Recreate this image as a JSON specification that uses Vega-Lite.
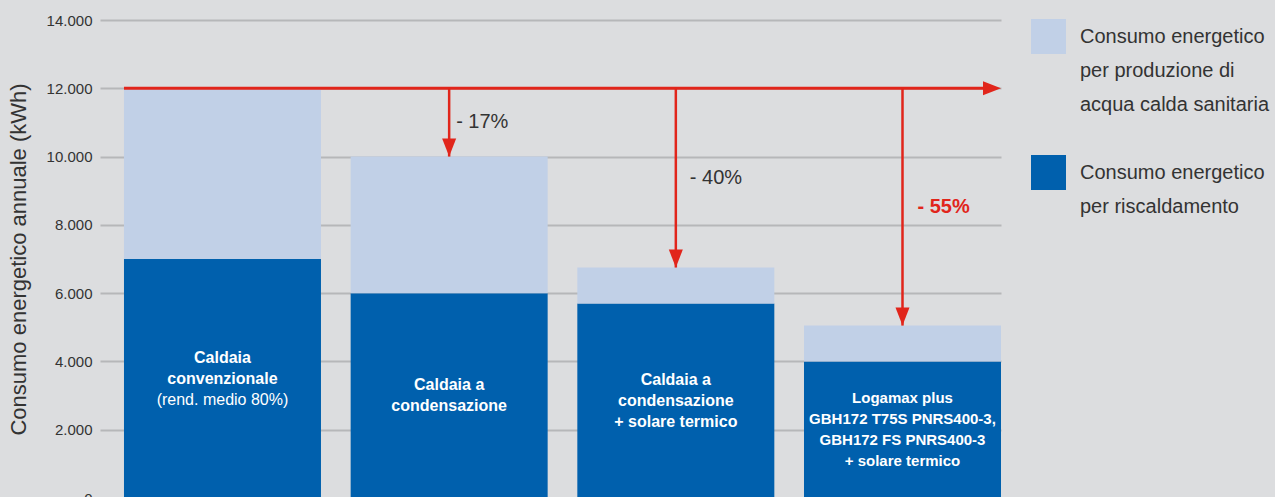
{
  "$schema": "https://vega.github.io/schema/vega-lite/v6.json",
  "width": 901,
  "height": 478,
  "autosize": "none",
  "padding": {"left": 100, "top": 20, "right": 274, "bottom": 0},
  "background": "#dcdddf",
  "config": {"view": {"stroke": null}, "font": "Liberation Sans"},
  "datasets": {
    "bars": [
      {"cat": "Caldaia convenzionale", "risc": 7000, "total": 12000, "righe": ["Caldaia", "convenzionale", ""], "nota": "(rend. medio 80%)", "riduzione": null},
      {"cat": "Caldaia a condensazione", "risc": 6000, "total": 10000, "righe": ["Caldaia a", "condensazione"], "nota": null, "riduzione": "- 17%"},
      {"cat": "Caldaia a condensazione + solare termico", "risc": 5700, "total": 6750, "righe": ["Caldaia a", "condensazione", "+ solare termico"], "nota": null, "riduzione": "- 40%"},
      {"cat": "Logamax plus + solare termico", "risc": 4000, "total": 5050, "righe": ["Logamax plus", "GBH172 T75S PNRS400-3,", "GBH172 FS PNRS400-3", "+ solare termico"], "nota": null, "riduzione": "- 55%"}
    ]
  },
  "data": {"name": "bars"},
  "resolve": {"scale": {"y": "independent"}},
  "layer": [
    {
      "layer": [
        {
          "mark": {"type": "bar"},
          "encoding": {
            "x": {
              "field": "cat", "type": "nominal", "axis": null,
              "scale": {
                "domain": ["Caldaia convenzionale", "Caldaia a condensazione", "Caldaia a condensazione + solare termico", "Logamax plus + solare termico"],
                "paddingInner": 0.1309, "paddingOuter": 0.0529, "align": 1
              }
            },
            "y": {
              "field": "risc", "type": "quantitative",
              "scale": {"domain": [0, 14000], "nice": false},
              "axis": {
                "title": "Consumo energetico annuale (kWh)",
                "values": [0, 1000, 2000, 3000, 4000, 5000, 6000, 7000, 8000, 9000, 10000, 11000, 12000, 13000, 14000],
                "labelExpr": "datum.value % 2000 === 0 ? replace(format(datum.value, ',.0f'), ',', '.') : ''",
                "grid": true,
                "gridColor": {"condition": {"test": "datum.value % 2000 === 0", "value": "#b6b7b9"}, "value": "#cdced0"},
                "gridWidth": 2,
                "domain": false,
                "ticks": false,
                "labelPadding": 8,
                "labelFontSize": 15,
                "labelColor": "#333333",
                "titleFontSize": 22,
                "titleFontWeight": "normal",
                "titleColor": "#333333",
                "titlePadding": 16
              }
            },
            "color": {
              "datum": "Consumo energetico|per riscaldamento", "type": "nominal",
              "scale": {
                "domain": ["Consumo energetico|per produzione di|acqua calda sanitaria", "Consumo energetico|per riscaldamento"],
                "range": ["#c1d0e7", "#0060ad"]
              },
              "legend": {
                "orient": "none", "legendX": 931, "legendY": -1, "title": null,
                "symbolType": "square", "symbolSize": 1225, "symbolStrokeWidth": 0,
                "labelFontSize": 20, "labelColor": "#333333", "labelFont": "Liberation Sans",
                "labelLimit": 400, "labelOffset": 14, "labelBaseline": "middle",
                "labelExpr": "split(datum.label, '|')",
                "rowPadding": 40, "padding": 0,
                "encode": {"labels": {"update": {"lineHeight": {"value": 34}}}}
              }
            }
          }
        },
        {
          "mark": {"type": "bar"},
          "encoding": {
            "x": {"field": "cat", "type": "nominal"},
            "y": {"field": "risc", "type": "quantitative"},
            "y2": {"field": "total"},
            "color": {"datum": "Consumo energetico|per produzione di|acqua calda sanitaria", "type": "nominal"}
          }
        },
        {
          "transform": [{"filter": "datum.riduzione != null"}],
          "mark": {"type": "rule", "color": "#e1251b", "strokeWidth": 2.5},
          "encoding": {
            "x": {"field": "cat", "type": "nominal"},
            "y": {"field": "total", "type": "quantitative"},
            "y2": {"datum": 12000}
          }
        },
        {
          "transform": [{"filter": "datum.riduzione != null"}],
          "mark": {"type": "point", "shape": "M-0.78,-2L0.78,-2L0,0Z", "filled": true, "size": 324, "color": "#e1251b", "opacity": 1},
          "encoding": {
            "x": {"field": "cat", "type": "nominal"},
            "y": {"field": "total", "type": "quantitative"}
          }
        },
        {
          "data": {"values": [{"da": "Caldaia convenzionale", "a": "Logamax plus + solare termico"}]},
          "mark": {"type": "rule", "color": "#e1251b", "strokeWidth": 3},
          "encoding": {
            "x": {"field": "da", "type": "nominal", "bandPosition": 0},
            "x2": {"field": "a", "bandPosition": 0.95},
            "y": {"datum": 12000, "type": "quantitative"}
          }
        },
        {
          "data": {"values": [{"da": "Caldaia convenzionale", "a": "Logamax plus + solare termico"}]},
          "mark": {"type": "point", "shape": "M-2,-0.78L-2,0.78L0,0Z", "filled": true, "size": 324, "color": "#e1251b", "opacity": 1},
          "encoding": {
            "x": {"field": "a", "type": "nominal", "bandPosition": 1},
            "y": {"datum": 12000, "type": "quantitative"}
          }
        }
      ]
    },
    {
      "transform": [{"filter": "length(datum.righe) === 3"}],
      "mark": {"type": "text", "align": "center", "baseline": "middle", "fontWeight": "bold", "color": "#ffffff", "lineHeight": 21, "fontSize": 16, "dy": -21},
      "encoding": {
        "x": {"field": "cat", "type": "nominal"},
        "y": {"field": "risc", "type": "quantitative", "scale": {"domain": [0, 28000], "nice": false, "zero": false}, "axis": null},
        "text": {"field": "righe"}
      }
    },
    {
      "transform": [{"filter": "length(datum.righe) === 2"}],
      "mark": {"type": "text", "align": "center", "baseline": "middle", "fontWeight": "bold", "color": "#ffffff", "lineHeight": 21, "fontSize": 16, "dy": -10.5},
      "encoding": {
        "x": {"field": "cat", "type": "nominal"},
        "y": {"field": "risc", "type": "quantitative", "scale": {"domain": [0, 28000], "nice": false, "zero": false}, "axis": null},
        "text": {"field": "righe"}
      }
    },
    {
      "transform": [{"filter": "length(datum.righe) === 4"}],
      "mark": {"type": "text", "align": "center", "baseline": "middle", "fontWeight": "bold", "color": "#ffffff", "lineHeight": 21, "fontSize": 15, "dy": -31.5},
      "encoding": {
        "x": {"field": "cat", "type": "nominal"},
        "y": {"field": "risc", "type": "quantitative", "scale": {"domain": [0, 28000], "nice": false, "zero": false}, "axis": null},
        "text": {"field": "righe"}
      }
    },
    {
      "transform": [{"filter": "datum.nota != null"}],
      "mark": {"type": "text", "align": "center", "baseline": "middle", "fontWeight": "normal", "color": "#ffffff", "fontSize": 16, "dy": 21},
      "encoding": {
        "x": {"field": "cat", "type": "nominal"},
        "y": {"field": "risc", "type": "quantitative", "scale": {"domain": [0, 28000], "nice": false, "zero": false}, "axis": null},
        "text": {"field": "nota"}
      }
    },
    {
      "transform": [{"filter": "datum.riduzione === '- 17%'"}],
      "mark": {"type": "text", "align": "left", "baseline": "middle", "dx": 7, "fontSize": 20, "color": "#333333"},
      "encoding": {
        "x": {"field": "cat", "type": "nominal"},
        "y": {"field": "total", "type": "quantitative", "scale": {"domain": [-12000, 16000], "nice": false, "zero": false}, "axis": null},
        "text": {"field": "riduzione"}
      }
    },
    {
      "transform": [{"filter": "datum.riduzione === '- 40%'"}],
      "mark": {"type": "text", "align": "left", "baseline": "middle", "dx": 14, "fontSize": 20, "color": "#333333"},
      "encoding": {
        "x": {"field": "cat", "type": "nominal"},
        "y": {"field": "total", "type": "quantitative", "scale": {"domain": [-12000, 16000], "nice": false, "zero": false}, "axis": null},
        "text": {"field": "riduzione"}
      }
    },
    {
      "transform": [{"filter": "datum.riduzione === '- 55%'"}],
      "mark": {"type": "text", "align": "left", "baseline": "middle", "dx": 15, "fontSize": 20, "fontWeight": "bold", "color": "#e1251b"},
      "encoding": {
        "x": {"field": "cat", "type": "nominal"},
        "y": {"field": "total", "type": "quantitative", "scale": {"domain": [-12000, 16000], "nice": false, "zero": false}, "axis": null},
        "text": {"field": "riduzione"}
      }
    }
  ]
}
